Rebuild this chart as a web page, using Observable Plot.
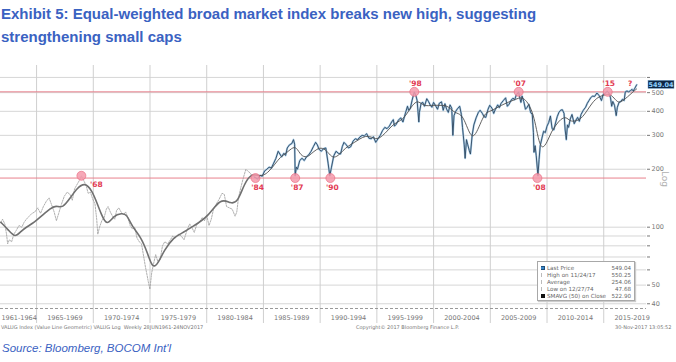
<!DOCTYPE html>
<html><head><meta charset="utf-8">
<script src="https://cdn.jsdelivr.net/npm/d3@7"></script>
<script src="https://cdn.jsdelivr.net/npm/@observablehq/plot@0.6"></script>
<style>
body{margin:0;width:676px;height:362px;overflow:hidden;background:#fff;position:relative;font-family:"Liberation Sans",Arial,sans-serif}
#title{position:absolute;left:1px;top:2px;font-weight:bold;font-size:15px;line-height:23px;color:#3a62c2;white-space:nowrap}
#chart{position:absolute;left:0;top:55px}
.foot{position:absolute;top:324px;font-family:"DejaVu Sans",sans-serif;font-size:5px;color:#777;white-space:nowrap}
#source{position:absolute;left:2px;top:342px;font-style:italic;font-size:11.5px;color:#3a62c2}
#legend{position:absolute;left:537px;top:261px;width:98px;height:40px;border:1px solid #a8a8a8;background:#fff;box-shadow:1px 1px 1px #ccc;font-family:"DejaVu Sans",sans-serif;font-size:5.6px;color:#666;padding-top:2px;box-sizing:border-box}
.row{display:flex;align-items:center;height:7px;padding:0 3px 0 3px}
.ic{width:4px;height:4px;margin-right:2px;flex:none;box-sizing:border-box}
.lab{flex:1;white-space:nowrap}
.val{text-align:right;white-space:nowrap;margin-left:2px}
</style></head>
<body>
<div id="title">Exhibit 5: Equal-weighted broad market index breaks new high, suggesting<br>strengthening small caps</div>
<div id="chart"></div>
<div id="legend"></div>
<div class="foot" style="left:1px">VALUG Index (Value Line Geometric) VALUG Log &nbsp;Weekly 28JUN1961-24NOV2017</div>
<div class="foot" style="left:356px">Copyright© 2017 Bloomberg Finance L.P.</div>
<div class="foot" style="left:615px">30-Nov-2017 13:05:52</div>
<div id="source">Source: Bloomberg, BOCOM Int'l</div>
<script>
// Weekly price (approximate readings): [year, value]
const priceSeries = [
[1961.85,106],[1962.0,110],[1962.2,104],[1962.35,92],[1962.45,82],[1962.6,86],[1962.8,84],[1963.0,92],[1963.2,96],[1963.45,102],[1963.7,100],[1963.9,106],[1964.1,110],[1964.35,114],[1964.6,118],[1964.85,120],[1965.1,126],[1965.35,118],[1965.6,128],[1965.85,136],[1966.1,142],[1966.3,132],[1966.55,120],[1966.75,108],[1966.95,118],[1967.2,132],[1967.45,145],[1967.7,152],[1967.95,148],[1968.15,138],[1968.35,158],[1968.6,168],[1968.8,176],[1968.95,185],[1969.15,175],[1969.35,166],[1969.55,150],[1969.75,152],[1969.95,140],[1970.15,132],[1970.3,110],[1970.4,92],[1970.55,100],[1970.75,108],[1970.95,112],[1971.15,124],[1971.3,128],[1971.5,120],[1971.7,114],[1971.9,110],[1972.05,122],[1972.25,126],[1972.45,120],[1972.65,116],[1972.85,120],[1973.05,112],[1973.25,102],[1973.45,98],[1973.65,100],[1973.85,88],[1974.05,84],[1974.25,82],[1974.45,70],[1974.6,62],[1974.75,56],[1974.85,52],[1974.99,47.68],[1975.15,58],[1975.35,66],[1975.5,72],[1975.7,66],[1975.9,68],[1976.1,80],[1976.3,84],[1976.55,82],[1976.8,86],[1977.0,90],[1977.25,88],[1977.5,92],[1977.75,90],[1978.0,86],[1978.25,96],[1978.5,104],[1978.75,98],[1978.9,94],[1979.1,102],[1979.35,106],[1979.6,112],[1979.8,108],[1980.0,115],[1980.2,102],[1980.4,110],[1980.6,124],[1980.85,132],[1981.1,140],[1981.35,150],[1981.55,148],[1981.75,128],[1982.0,126],[1982.25,124],[1982.5,114],[1982.65,120],[1982.8,142],[1983.0,160],[1983.2,178],[1983.45,200],[1983.6,196],[1983.8,192],[1984.0,185],[1984.2,182],
[1984.5,178],[1984.7,186],[1984.9,184],[1985.1,196],[1985.3,200],[1985.5,205],[1985.7,203],[1985.9,215],[1986.1,228],[1986.3,248],[1986.45,240],[1986.6,232],[1986.8,242],[1986.95,236],[1987.1,258],[1987.3,268],[1987.5,272],[1987.65,285],[1987.75,270],[1987.8,185],[1987.9,205],[1988.0,200],[1988.2,222],[1988.4,228],[1988.6,222],[1988.8,232],[1989.0,238],[1989.2,248],[1989.4,262],[1989.6,276],[1989.75,268],[1989.9,254],[1990.1,248],[1990.3,256],[1990.5,258],[1990.7,215],[1990.85,185],[1991.0,205],[1991.2,235],[1991.4,248],[1991.6,242],[1991.8,240],[1991.95,262],[1992.1,276],[1992.3,268],[1992.5,258],[1992.7,262],[1992.9,280],[1993.1,288],[1993.3,285],[1993.5,294],[1993.7,300],[1993.9,298],[1994.1,306],[1994.3,290],[1994.5,288],[1994.7,295],[1994.9,276],[1995.1,288],[1995.3,300],[1995.5,318],[1995.7,330],[1995.9,325],[1996.1,335],[1996.3,352],[1996.45,362],[1996.55,335],[1996.7,342],[1996.9,360],[1997.1,370],[1997.3,352],[1997.5,388],[1997.7,425],[1997.8,405],[1997.95,415],[1998.1,455],[1998.3,505],[1998.45,480],[1998.55,455],[1998.7,352],[1998.75,395],[1998.9,440],[1999.05,445],[1999.2,425],[1999.4,465],[1999.55,450],[1999.7,432],[1999.85,420],[2000.0,445],[2000.2,425],[2000.35,410],[2000.5,440],[2000.7,448],[2000.85,405],[2001.0,438],[2001.15,410],[2001.3,395],[2001.45,432],[2001.6,415],[2001.7,300],[2001.8,380],[2001.95,400],[2002.1,412],[2002.3,425],[2002.45,385],[2002.55,330],[2002.7,268],[2002.78,228],[2002.9,285],[2003.0,270],[2003.15,250],[2003.25,240],[2003.4,300],[2003.55,340],[2003.75,370],[2003.95,395],[2004.1,405],[2004.3,390],[2004.45,375],[2004.6,372],[2004.8,410],[2004.95,430],[2005.15,415],[2005.3,390],[2005.45,410],[2005.65,432],[2005.8,418],[2005.95,440],[2006.15,455],[2006.35,470],[2006.5,425],[2006.65,435],[2006.85,458],[2007.0,468],[2007.15,460],[2007.3,488],[2007.5,505],[2007.6,470],[2007.7,445],[2007.8,480],[2007.95,450],[2008.1,410],[2008.25,420],[2008.4,435],[2008.55,395],[2008.7,385],[2008.8,310],[2008.85,245],[2008.95,265],[2009.05,235],[2009.2,185],[2009.3,225],[2009.4,265],[2009.55,290],[2009.7,315],[2009.85,310],[2010.0,335],[2010.15,350],[2010.3,378],[2010.45,325],[2010.6,320],[2010.75,348],[2010.9,375],[2011.05,395],[2011.2,405],[2011.35,408],[2011.5,390],[2011.6,320],[2011.7,285],[2011.8,340],[2011.9,330],[2012.05,365],[2012.2,385],[2012.4,345],[2012.55,360],[2012.7,372],[2012.85,355],[2013.0,385],[2013.2,405],[2013.4,420],[2013.55,440],[2013.7,455],[2013.85,470],[2014.0,480],[2014.2,478],[2014.4,498],[2014.6,482],[2014.8,455],[2014.95,490],[2015.1,495],[2015.3,508],[2015.45,500],[2015.6,470],[2015.7,425],[2015.8,450],[2015.95,430],[2016.05,395],[2016.1,380],[2016.2,420],[2016.35,445],[2016.5,450],[2016.65,462],[2016.8,455],[2016.9,505],[2017.05,510],[2017.2,505],[2017.35,512],[2017.5,520],[2017.6,510],[2017.75,528],[2017.9,549.04]
];
// 50-week simple moving average (approximate readings)
const smaSeries = [
[1961.85,106],[1962.5,97],[1963.1,88],[1963.6,95],[1964.2,101],[1964.8,106],[1965.5,115],[1966.2,125],[1966.7,130],[1967.3,125],[1968.0,143],[1968.6,160],[1969.25,171],[1969.9,155],[1970.4,130],[1970.7,117],[1971.2,101],[1971.8,115],[1972.5,118],[1972.95,117],[1973.45,100],[1974.2,89],[1974.8,73],[1975.22,61],[1975.7,64.5],[1976.25,76],[1977.13,89],[1977.7,92],[1978.9,102],[1980.1,113],[1981.25,143],[1982.14,132],[1982.73,135],[1983.31,168],[1983.9,189],[1984.5,186],
[1985.0,185],[1985.5,195],[1986.0,212],[1986.5,232],[1987.0,242],[1987.5,258],[1987.9,262],[1988.3,235],[1988.8,230],[1989.2,240],[1989.7,255],[1990.2,260],[1990.7,245],[1991.1,228],[1991.6,235],[1992.0,250],[1992.5,265],[1993.0,275],[1993.5,288],[1994.0,298],[1994.5,295],[1995.0,285],[1995.5,298],[1996.0,320],[1996.5,345],[1997.0,355],[1997.5,375],[1998.0,420],[1998.5,455],[1998.9,440],[1999.3,425],[1999.8,430],[2000.3,430],[2000.8,430],[2001.3,425],[2001.8,395],[2002.2,390],[2002.6,375],[2003.0,325],[2003.4,290],[2003.8,310],[2004.2,355],[2004.6,395],[2005.0,400],[2005.5,415],[2006.0,430],[2006.5,445],[2007.0,455],[2007.5,470],[2007.9,470],[2008.3,445],[2008.7,400],[2009.0,340],[2009.3,275],[2009.6,255],[2010.0,275],[2010.4,315],[2010.8,340],[2011.2,365],[2011.7,375],[2012.0,355],[2012.5,355],[2013.0,365],[2013.5,400],[2014.0,445],[2014.5,475],[2015.0,485],[2015.5,495],[2015.9,470],[2016.3,440],[2016.7,455],[2017.1,475],[2017.5,500],[2017.9,522.9]
];
const markerYears  = [1968.95, 1984.3, 1987.8, 1990.9, 1998.3, 2007.5, 2009.15, 2015.35];
const markerValues = [185, 180, 180, 180, 505, 505, 180, 505];
const labelTexts   = ["'68", "'84", "'87", "'90", "'98", "'07", "'08", "'15", "?"];
const labelYears   = [1968.95, 1984.3, 1987.8, 1990.9, 1998.3, 2007.5, 2009.15, 2015.35, 2017.24];
const labelValues  = [185, 180, 180, 180, 505, 505, 180, 505, 505];
const labelPlaces  = ["right", "below", "below", "below", "above", "above", "below", "above", "above"];
const levelLines   = [505, 180];
const gridValues   = [600, 500, 400, 300, 200, 100, 90, 80, 70, 60, 50, 40];
const gridYears    = [1965, 1970, 1975, 1980, 1985, 1990, 1995, 2000, 2005, 2010, 2015];
const periodLabels = ["1961-1964","1965-1969","1970-1974","1975-1979","1980-1984","1985-1989","1990-1994","1995-1999","2000-2004","2005-2009","2010-2014","2015-2019"];
const periodMid    = [1961.9, 1967.5, 1972.5, 1977.5, 1982.5, 1987.5, 1992.5, 1997.5, 2002.5, 2007.5, 2012.5, 2017.5];
const legendLabels = ["Last Price", "High on 11/24/17", "Average", "Low on 12/27/74", "SMAVG (50) on Close"];
const legendValues = ["549.04", "550.25", "254.06", "47.68", "522.90"];
const lastPrice = 549.04;

const price = priceSeries.map(([year, value]) => ({year, value}));
const sma = smaSeries.map(([year, value]) => ({year, value}));
const cut = 1984.2;
const priceEarly = price.filter(d => d.year <= cut), priceLate = price.filter(d => d.year >= cut);
const smaEarly = sma.filter(d => d.year <= 1984.5), smaLate = sma.filter(d => d.year >= 1984.5);
const markers = markerYears.map((year, i) => ({year, value: markerValues[i]}));
const labels = labelTexts.map((t, i) => ({t, year: labelYears[i], value: labelValues[i], place: labelPlaces[i]}));
const periods = periodLabels.map((t, i) => ({t, year: periodMid[i]}));
const lblStyle = {x: "year", y: "value", text: "t", fill: "#e23a52", fontWeight: "bold", fontSize: 7.5, fontFamily: "DejaVu Sans, sans-serif"};
const perStyle = {x: "year", text: "t", frameAnchor: "bottom", dy: 11, fontSize: 6.5, fill: "#777"};

const chart = Plot.plot({
  width: 676, height: 307,
  marginLeft: 0, marginRight: 30, marginTop: 10, marginBottom: 54,
  x: {domain: [1961.82, 2018.77], axis: null},
  y: {type: "log", domain: [37.8, 692], axis: null},
  style: {fontFamily: "DejaVu Sans, sans-serif", background: "transparent"},
  marks: [
    Plot.ruleY(gridValues, {stroke: "#d6d6d6", strokeWidth: 1}),
    Plot.ruleX(gridYears, {stroke: "#cfcfcf", insetBottom: -15}),
    Plot.ruleY(levelLines, {stroke: "#e8808c", strokeWidth: 1}),
    Plot.ruleY([37.8], {stroke: "#999", strokeDasharray: "3,2"}),
    Plot.line(priceEarly, {x: "year", y: "value", stroke: "#9c9c9c", strokeWidth: 0.8, strokeDasharray: "1.6,1.2"}),
    Plot.line(smaEarly, {x: "year", y: "value", stroke: "#707070", strokeWidth: 1.6, curve: "basis"}),
    Plot.line(priceLate, {x: "year", y: "value", stroke: "#a9cde8", strokeWidth: 2}),
    Plot.line(priceLate, {x: "year", y: "value", stroke: "#2f4760", strokeWidth: 0.9}),
    Plot.line(smaLate, {x: "year", y: "value", stroke: "#505050", strokeWidth: 0.9, curve: "basis"}),
    Plot.dot(markers, {x: "year", y: "value", r: 4.5, fill: "#f59aab", fillOpacity: 0.85, stroke: "#e8647a", strokeWidth: 0.6}),
    Plot.text(labels.filter(d => d.place === "right"), {...lblStyle, dx: 15, dy: 9}),
    Plot.text(labels.filter(d => d.place === "below"), {...lblStyle, dx: 2, dy: 10}),
    Plot.text(labels.filter(d => d.place === "above"), {...lblStyle, dx: 1, dy: -8}),
    Plot.axisY(gridValues, {anchor: "right", label: null, tickSize: 3, tickPadding: 2, fontSize: 6.5, color: "#777", tickFormat: d => String(d)}),
    Plot.text(["Log"], {frameAnchor: "right", dx: 18, rotate: 90, fontSize: 9, fill: "#b0b0b0"}),
    Plot.text(periods.slice(0, 1), {...perStyle, textAnchor: "start"}),
    Plot.text(periods.slice(1), perStyle)
  ]
});
// Last-price tag on the right axis, positioned through the y scale
const ys = chart.scale("y");
const py = ys.apply(lastPrice);
const g = d3.select(chart).append("g");
g.append("rect").attr("x", 648).attr("y", py - 4).attr("width", 26).attr("height", 8).attr("fill", "#0e2644").attr("stroke", "#6fa3d0").attr("stroke-width", 0.5);
g.append("text").attr("x", 661).attr("y", py).attr("dy", "0.35em").attr("text-anchor", "middle")
  .attr("font-size", 6.5).attr("font-weight", "bold").attr("fill", "#8fd0ff").text(lastPrice.toFixed(2));
document.getElementById("chart").appendChild(chart);

// Legend
const icons = [["#3a86c8", "#1f4f7a"], ["none", "#bbb"], ["none", "#bbb"], ["none", "#bbb"], ["#111", "#111"]];
const leg = d3.select("#legend");
legendLabels.forEach((l, i) => {
  const r = leg.append("div").attr("class", "row");
  r.append("div").attr("class", "ic").style("background", icons[i][0]).style("border", icons[i][0] === "none" ? "none" : "0.5px solid " + icons[i][1])
    .style("border-left", icons[i][0] === "none" ? "1px solid #bbb" : null);
  r.append("div").attr("class", "lab").text(l);
  r.append("div").attr("class", "val").text(legendValues[i]);
});
</script>
</body></html>
